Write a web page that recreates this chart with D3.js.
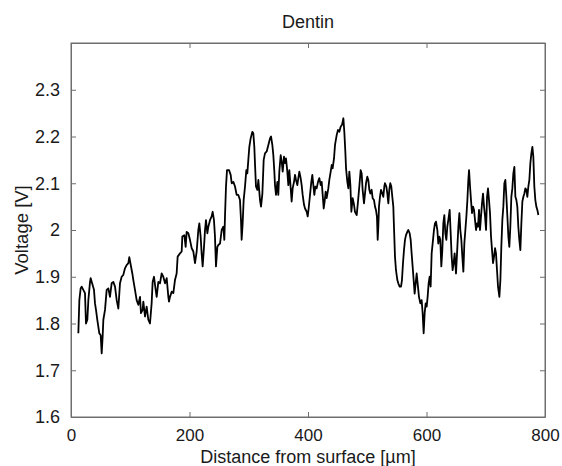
<!DOCTYPE html>
<html>
<head>
<meta charset="utf-8">
<script src="https://cdn.jsdelivr.net/npm/d3@7"></script>
<style>
    body { margin: 0; background: #fff; }
    text { font-family: "Liberation Sans", Arial, sans-serif; }
</style>
</head>
<body>
<div id="chart"></div>
<script>
// Distance from surface [µm]
const distance = [
    12.4, 14.1, 16.3, 18.0, 20.8, 23.6, 25.3, 27.6, 29.3, 32.1, 33.2, 36.6, 38.8, 40.5, 42.2, 44.4,
    47.8, 50.1, 51.8, 53.4, 54.6, 57.4, 60.2, 63.0, 65.8, 68.6, 71.4, 74.3, 77.1, 79.9, 82.7, 85.5,
    88.3, 91.1, 93.9, 96.8, 98.4, 101.3, 103.5, 105.2, 108.0, 110.8, 113.6, 116.5, 118.1, 120.9, 122.1,
    124.9, 127.7, 130.5, 133.3, 136.1, 137.8, 140.1, 142.9, 144.6, 147.4, 150.2, 153.0, 155.8, 158.7,
    161.5, 164.3,
    165.4, 167.1, 169.9, 172.7, 175.5, 178.3, 180.0, 184.0, 186.8, 187.9, 191.3, 193.5, 195.2, 198.0,
    200.8, 203.7, 206.5, 209.3, 212.1, 214.9, 216.6, 218.8, 220.5, 222.2, 224.5, 226.2, 227.8, 230.1,
    231.8, 234.6, 237.4, 239.1, 241.3, 243.0, 244.7, 247.0, 248.7, 251.5, 254.3, 257.1, 258.8, 259.9,
    261.6, 263.3, 266.7, 269.5, 271.2, 274.0, 276.8, 279.6, 282.4, 285.2, 286.9, 288.0, 289.7, 291.4,
    293.7, 295.9, 297.6, 299.3, 301.0, 303.2, 306.1, 307.7, 309.4, 310.5, 312.2, 314.5, 316.2, 319.0,
    320.7, 323.0, 325.2, 327.4,
    330.3, 333.1, 335.9, 337.6, 339.8, 341.5, 343.2, 344.3, 346.0, 348.3, 349.9, 351.6, 353.9, 355.6,
    357.3, 359.5, 361.2, 362.9, 365.1, 366.8, 368.5, 370.8, 372.4, 374.1, 376.4, 378.1, 379.8, 382.0,
    383.7, 385.4, 387.6, 389.3, 391.0, 393.3, 395.0, 397.8, 399.5, 401.1, 403.4, 405.6, 407.3, 409.0,
    410.7, 412.4, 414.6, 416.9, 419.1, 421.4, 423.1, 424.8, 426.5, 428.1, 429.8, 431.5, 434.3, 436.0,
    438.3, 440.0, 441.6, 443.9, 445.6, 448.4, 450.6, 452.9, 455.1, 457.4, 459.7, 461.3, 463.0, 464.2,
    466.4, 468.1, 469.8, 471.5, 473.2, 475.4, 477.7, 479.3, 482.2, 484.4,
    486.6, 488.9, 490.6, 492.2, 494.5, 496.2, 497.9, 500.1, 501.8, 503.5, 505.2, 507.4, 509.1, 511.4,
    513.1, 514.7, 516.4, 517.6, 518.7, 519.8, 521.5, 523.2, 525.4, 527.1, 528.8, 529.9, 532.2, 533.9,
    535.6, 537.2, 538.9, 540.6, 542.3, 544.0, 545.1, 546.8, 548.5, 550.8, 552.4, 554.7, 557.0, 558.6,
    560.3, 562.0, 563.7, 565.4, 567.6, 569.3, 571.6, 573.3, 574.9, 576.6, 578.3, 580.0, 581.7, 583.4,
    585.6, 587.3, 589.6, 591.8, 593.5, 595.2, 596.9, 598.6, 600.3, 601.9, 603.6, 605.3, 607.0, 608.7,
    611.0, 612.6, 614.3, 616.0, 618.3, 619.9, 621.6, 623.3, 625.0, 626.7, 628.4, 630.1, 631.8, 633.5,
    635.1, 636.8, 639.1, 640.8, 642.5, 644.1, 645.8, 647.5,
    649.8, 652.1, 653.8, 655.5, 657.1, 658.8, 660.5, 662.2, 663.9, 665.6, 667.3, 669.0, 670.6, 671.8,
    673.5, 675.1, 676.8, 678.5, 680.2, 681.9, 683.6, 685.3, 687.0, 688.6, 690.3, 692.0, 693.7, 695.4,
    697.1, 698.8, 700.5, 702.2, 703.8, 705.5, 707.2, 708.9, 710.6, 712.3, 714.0, 715.7, 717.3, 719.0,
    720.7, 723.0, 724.7, 726.3, 728.0, 729.7, 731.4, 733.1, 734.8, 736.5, 738.2, 739.8, 741.5, 743.2,
    744.9, 746.6, 748.3, 750.0, 751.7, 753.3, 755.0, 756.7, 758.4, 760.1, 761.8, 763.5, 765.2, 766.8,
    768.5, 770.2, 771.9, 773.6, 775.3, 777.0, 778.7, 780.3, 782.0, 783.7, 785.4, 787.1, 788.8
];

// Voltage [V]
const voltage = [
    1.779, 1.850, 1.875, 1.879, 1.872, 1.865, 1.800, 1.808, 1.850, 1.889, 1.897, 1.882, 1.872, 1.843, 1.829, 1.808,
    1.779, 1.775, 1.736, 1.772, 1.808, 1.829, 1.872, 1.875, 1.857, 1.886, 1.889, 1.879, 1.850, 1.832, 1.886, 1.900,
    1.904, 1.918, 1.925, 1.929, 1.942, 1.922, 1.907, 1.893, 1.872, 1.850, 1.840, 1.857, 1.822, 1.829, 1.847,
    1.815, 1.836, 1.808, 1.800, 1.843, 1.889, 1.900, 1.872, 1.857, 1.889, 1.886, 1.907, 1.900, 1.886,
    1.897, 1.857,
    1.847, 1.857, 1.868, 1.865, 1.893, 1.907, 1.943, 1.950, 1.954, 1.986, 1.989, 1.964, 1.996, 1.993,
    1.979, 1.961, 1.954, 1.929, 1.954, 2.000, 2.014, 1.986, 1.950, 1.922, 1.964, 2.000, 2.021, 1.993,
    2.007, 2.021, 2.029, 2.039, 2.021, 1.986, 1.922, 1.964, 1.968, 1.971, 2.000, 2.007, 1.979, 2.029,
    2.093, 2.128, 2.128, 2.118, 2.100, 2.103, 2.093, 2.075, 2.075, 2.064, 2.021, 1.979, 2.014, 2.064,
    2.093, 2.128, 2.121, 2.150, 2.178, 2.196, 2.210, 2.207, 2.178, 2.143, 2.093, 2.086, 2.107, 2.064,
    2.050, 2.078, 2.150, 2.164,
    2.168, 2.182, 2.196, 2.200, 2.182, 2.160, 2.125, 2.096, 2.075, 2.103, 2.075, 2.125, 2.160, 2.146,
    2.125, 2.157, 2.143, 2.153, 2.125, 2.096, 2.128, 2.089, 2.061, 2.089, 2.103, 2.118, 2.107, 2.096,
    2.111, 2.125, 2.111, 2.096, 2.075, 2.054, 2.046, 2.039, 2.029, 2.046, 2.075, 2.103, 2.118, 2.096,
    2.075, 2.093, 2.089, 2.103, 2.111, 2.096, 2.103, 2.075, 2.046, 2.061, 2.082, 2.068, 2.089, 2.107,
    2.125, 2.139, 2.132, 2.153, 2.182, 2.203, 2.214, 2.210, 2.221, 2.225, 2.239, 2.210, 2.168, 2.132,
    2.103, 2.089, 2.125, 2.096, 2.039, 2.068, 2.054, 2.039, 2.032, 2.061,
    2.093, 2.128, 2.121, 2.086, 2.057, 2.078, 2.100, 2.114, 2.107, 2.086, 2.078, 2.086, 2.068, 2.064,
    2.050, 2.043, 2.028, 1.979, 2.007, 2.050, 2.071, 2.086, 2.078, 2.071, 2.093, 2.100, 2.093, 2.078,
    2.057, 2.086, 2.100, 2.093, 2.071, 2.050, 2.007, 1.943, 1.914, 1.893, 1.886, 1.879, 1.879, 1.893,
    1.929, 1.957, 1.979, 1.989, 1.996, 2.000, 1.993, 1.979, 1.950, 1.922, 1.893, 1.864, 1.886, 1.907,
    1.879, 1.857, 1.843, 1.850, 1.822, 1.779, 1.822, 1.843, 1.836, 1.857, 1.886, 1.900, 1.879, 1.950,
    1.979, 2.000, 2.014, 2.018, 2.000, 1.971, 1.986, 1.979, 1.922, 1.957, 2.014, 2.032, 1.993, 1.979,
    2.007, 2.021, 2.043, 1.993, 1.943, 1.914, 1.929, 1.950,
    1.907, 1.964, 2.007, 2.036, 2.000, 1.979, 1.943, 1.911, 1.972, 2.000, 2.029, 2.064, 2.107, 2.128,
    2.093, 2.064, 2.036, 2.050, 2.043, 2.021, 2.000, 2.014, 2.007, 2.043, 2.000, 2.029, 2.057, 2.078,
    2.050, 2.029, 2.000, 2.071, 2.089, 2.064, 2.036, 1.986, 1.957, 1.929, 1.943, 1.961, 1.950, 1.914,
    1.879, 1.857, 1.893, 1.964, 2.021, 2.050, 2.100, 2.107, 2.071, 2.029, 1.986, 1.964, 2.007, 2.071,
    2.089, 2.121, 2.135, 2.071, 2.064, 2.050, 2.007, 1.979, 1.957, 2.014, 2.061, 2.071, 2.078, 2.089,
    2.086, 2.071, 2.093, 2.107, 2.143, 2.164, 2.178, 2.157, 2.093, 2.064, 2.050, 2.043, 2.032
];

const xTicks = [0, 200, 400, 600, 800];
const yTicks = [1.6, 1.7, 1.8, 1.9, 2.0, 2.1, 2.2, 2.3];

/**
 * Draws the MATLAB-style line plot
 * @param {string} containerId - The ID of the container element
 */
function createVoltageChart(containerId) {
    const width = 562;
    const height = 466;
    const margin = { top: 43, right: 17, bottom: 49, left: 71 };
    const plotW = width - margin.left - margin.right;
    const plotH = height - margin.top - margin.bottom;

    const svg = d3.select('#' + containerId)
        .append('svg')
        .attr('width', width)
        .attr('height', height);

    const x = d3.scaleLinear().domain([0, 800]).range([margin.left, margin.left + plotW]);
    const y = d3.scaleLinear().domain([1.6, 2.4]).range([margin.top + plotH, margin.top]);

    const data = distance.map((d, i) => ({ x: d, v: voltage[i] }));

    // Trace
    svg.append('path')
        .datum(data)
        .attr('fill', 'none')
        .attr('stroke', '#000')
        .attr('stroke-width', 1.8)
        .attr('stroke-linejoin', 'round')
        .attr('d', d3.line().x(d => x(d.x)).y(d => y(d.v)));

    // Axes, ticks pointing inward on all four sides
    const tickLen = 5;
    const axisColor = '#6e6e6e';

    svg.append('g')
        .attr('class', 'x-axis')
        .attr('transform', `translate(0,${margin.top + plotH})`)
        .call(d3.axisBottom(x).tickValues(xTicks).tickSizeInner(-tickLen).tickSizeOuter(0).tickPadding(12).tickFormat(d3.format('d')));

    svg.append('g')
        .attr('transform', `translate(0,${margin.top})`)
        .call(d3.axisTop(x).tickValues(xTicks).tickSizeInner(-tickLen).tickSizeOuter(0).tickFormat(''));

    svg.append('g')
        .attr('class', 'y-axis')
        .attr('transform', `translate(${margin.left},0)`)
        .call(d3.axisLeft(y).tickValues(yTicks).tickSizeInner(-tickLen).tickSizeOuter(0).tickPadding(11).tickFormat(d => d3.format('')(+d.toFixed(1))));

    svg.append('g')
        .attr('transform', `translate(${margin.left + plotW},0)`)
        .call(d3.axisRight(y).tickValues(yTicks).tickSizeInner(-tickLen).tickSizeOuter(0).tickFormat(''));

    svg.selectAll('.domain').attr('stroke', axisColor);
    svg.selectAll('.tick line').attr('stroke', axisColor);
    svg.selectAll('.tick text')
        .attr('fill', '#1a1a1a')
        .attr('font-size', '18px')
        .attr('font-family', '"Liberation Sans", Arial, sans-serif');
    svg.selectAll('.x-axis .tick text').attr('font-size', '17px');

    // Plot box
    svg.append('rect')
        .attr('x', margin.left)
        .attr('y', margin.top)
        .attr('width', plotW)
        .attr('height', plotH)
        .attr('fill', 'none')
        .attr('stroke', axisColor);

    // Title and axis labels
    svg.append('text')
        .attr('x', margin.left + plotW / 2)
        .attr('y', 28)
        .attr('text-anchor', 'middle')
        .attr('font-size', '18px')
        .attr('fill', '#1a1a1a')
        .text('Dentin');

    svg.append('text')
        .attr('x', margin.left + plotW / 2)
        .attr('y', 463)
        .attr('text-anchor', 'middle')
        .attr('font-size', '18px')
        .attr('fill', '#1a1a1a')
        .text('Distance from surface [µm]');

    svg.append('text')
        .attr('transform', `translate(28,${margin.top + plotH / 2}) rotate(-90)`)
        .attr('text-anchor', 'middle')
        .attr('font-size', '18.5px')
        .attr('fill', '#1a1a1a')
        .text('Voltage [V]');
}

createVoltageChart('chart');
</script>
</body>
</html>
